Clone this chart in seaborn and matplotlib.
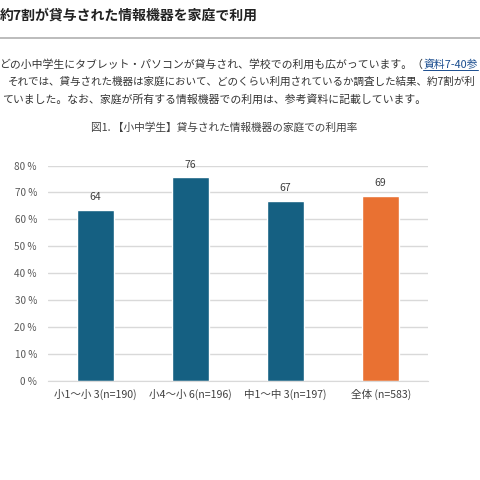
import matplotlib
matplotlib.use('Agg')
import matplotlib.pyplot as plt
import seaborn as sns
from matplotlib.lines import Line2D


categories = ['小1～小 3(n=190)', '小4～小 6(n=196)', '中1～中 3(n=197)', '全体 (n=583)']
rates = [63.6, 75.6, 66.8, 68.6]
bar_colors = ['#156082', '#156082', '#156082', '#E97132']
yticks = [0, 10, 20, 30, 40, 50, 60, 70, 80]

heading = '約7割が貸与された情報機器を家庭で利用'
para1 = 'どの小中学生にタブレット・パソコンが貸与され、学校での利用も広がっています。（'
link = '資料7-40参'
para2 = 'それでは、貸与された機器は家庭において、どのくらい利用されているか調査した結果、約7割が利'
para3 = 'ていました。なお、家庭が所有する情報機器での利用は、参考資料に記載しています。'
chart_title = '図1. 【小中学生】貸与された情報機器の家庭での利用率'

sns.set_style('white')
plt.rcParams['font.family'] = ['Noto Sans CJK JP', 'DejaVu Sans']

fig = plt.figure(figsize=(4.8, 4.8), dpi=100)
ax = fig.add_axes([0.1, 0.207, 0.792, 0.448])

sns.barplot(x=categories, y=rates, hue=categories, palette=bar_colors,
            legend=False, width=0.39, saturation=1, ax=ax)

for i, v in enumerate(rates):
    ax.text(i, v + 4.8, f'{v:.0f}', ha='center', va='center', fontsize=7.5, color='#404040')

ax.set_ylim(0, 80)
ax.set_xlim(-0.5, len(categories) - 0.5)
ax.set_yticks(yticks)
ax.set_yticklabels([f'{t} %' for t in yticks])
ax.yaxis.grid(True, color='#d9d9d9', linewidth=1)
ax.set_axisbelow(True)
for s in ['top', 'right', 'left']:
    ax.spines[s].set_visible(False)
ax.spines['bottom'].set_color('#d9d9d9')
ax.tick_params(axis='y', length=0, pad=8, labelsize=7.2, labelcolor='#595959')
ax.tick_params(axis='x', length=0, pad=6, labelsize=7.6, labelcolor='#404040')
ax.set_xlabel('')
ax.set_ylabel('')

# page text around the chart
fig.text(0.0, 1 - 16 / 480, heading, fontsize=10, fontweight='bold', color='#222222', va='center')
fig.add_artist(Line2D([0, 1], [1 - 38 / 480] * 2, color='#b0b0b0', linewidth=1.2))

t1 = fig.text(-0.002, 1 - 65 / 480, para1, fontsize=7.8, color='#333333', va='center')
fig.canvas.draw()
bb = t1.get_window_extent()
t_link = fig.text(bb.x1 / 480, 1 - 65 / 480, link, fontsize=7.8, color='#1a4d8f', va='center')
fig.canvas.draw()
lb = t_link.get_window_extent()
fig.add_artist(Line2D([lb.x0 / 480, lb.x1 / 480], [lb.y0 / 480 + 0.001] * 2,
                      color='#1a4d8f', linewidth=0.7))

fig.text(8 / 480, 1 - 82 / 480, para2, fontsize=7.6, color='#333333', va='center')
fig.text(2 / 480, 1 - 99 / 480, para3, fontsize=7.8, color='#333333', va='center')
fig.text(0.466, 1 - 128 / 480, chart_title, fontsize=7.7, color='#404040', ha='center', va='center')

fig.savefig('out.png', dpi=100, facecolor='white')
